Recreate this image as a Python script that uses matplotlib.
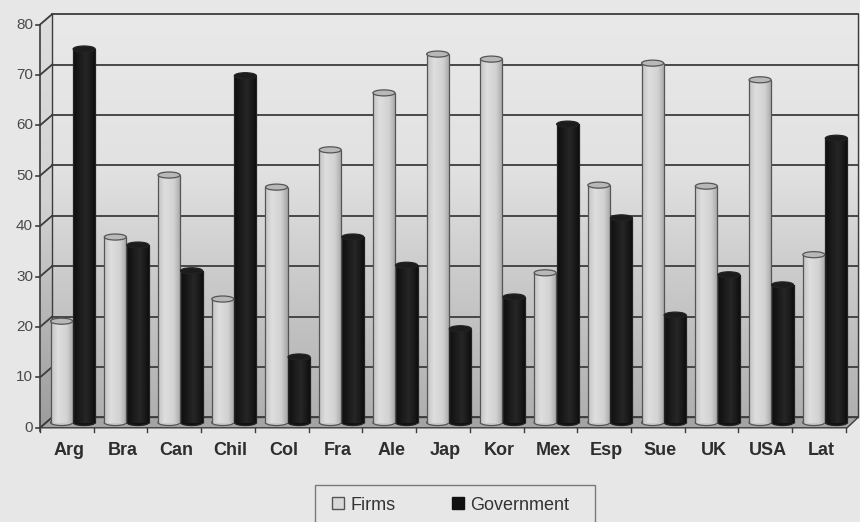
import numpy as np
import matplotlib
matplotlib.use("Agg")
import matplotlib.pyplot as plt
from matplotlib.patches import Ellipse, Polygon, Rectangle
from matplotlib.colors import LinearSegmentedColormap
from matplotlib.lines import Line2D

plt.rcParams["font.family"] = ["Liberation Sans", "DejaVu Sans"]

countries = ["Arg", "Bra", "Can", "Chil", "Col", "Fra", "Ale", "Jap",
             "Kor", "Mex", "Esp", "Sue", "UK", "USA", "Lat"]
firms = [20.1, 36.8, 49.1, 24.5, 46.7, 54.1, 65.4, 73.1,
         72.1, 29.7, 47.1, 71.3, 46.9, 68.0, 33.3]
government = [74.1, 35.2, 30.1, 68.8, 13.0, 36.8, 31.2, 18.6,
              24.9, 59.2, 40.6, 21.3, 29.3, 27.3, 56.4]
yticks = list(range(0, 90, 10))
series_names = ["Firms", "Government"]

BG = "#e7e7e7"
GRID = "#3c3c3c"
DX = 0.112        # depth shift in category units (bar plane -> back wall)
DYF, DYB = 1.05, 1.0   # depth shift in value units (front / back)
BW = 0.41          # cylinder width
EH = 1.2           # height of the elliptical caps

fig = plt.figure(figsize=(8.6, 5.22), dpi=100, facecolor=BG)
ax = fig.add_axes([0, 0, 1, 1])
ax.set_facecolor(BG)

n = len(countries)
xl_f, xr_f = -0.5 - DX, n - 0.5 - DX * 0.8
xl_b, xr_b = -0.5 + DX, n - 0.5 + DX
ytop = yticks[-1]

# back wall with vertical shading
wall_cmap = LinearSegmentedColormap.from_list(
    "wall", [(0, "#e9e9e9"), (0.38, "#e2e2e2"), (0.65, "#cbcbcb"), (1, "#b0b0b0")])
grad = np.linspace(0, 1, 256)[:, None]
ax.imshow(grad, cmap=wall_cmap, aspect="auto", zorder=0,
          extent=[xl_b, xr_b, DYB, ytop + DYB])

# left side wall
side = Polygon([(xl_f, -DYF), (xl_b, DYB), (xl_b, ytop + DYB), (xl_f, ytop - DYF)],
               closed=True, facecolor="none", edgecolor="none")
ax.add_patch(side)
side_cmap = LinearSegmentedColormap.from_list(
    "side", [(0, "#dedede"), (0.45, "#d2d2d2"), (1, "#9c9c9c")])
img = ax.imshow(grad, cmap=side_cmap, aspect="auto", zorder=0,
                extent=[xl_f, xl_b, -DYF, ytop + DYB])
img.set_clip_path(side)

# floor
floor = Polygon([(xl_f, -DYF), (xr_f, -DYF), (xr_b, DYB), (xl_b, DYB)],
                closed=True, facecolor="#a4a4a4", edgecolor=GRID, lw=1.0, zorder=1)
ax.add_patch(floor)

# gridlines: back wall + diagonal on the side wall + front ticks
for t in yticks:
    ax.plot([xl_b, xr_b], [t + DYB, t + DYB], color=GRID, lw=1.3, zorder=1)
    ax.plot([xl_f, xl_b], [t - DYF, t + DYB], color=GRID, lw=1.3, zorder=1)
    ax.plot([xl_f - 0.075, xl_f], [t - DYF, t - DYF], color=GRID, lw=1.2, zorder=1)
    ax.text(xl_f - 0.13, t - DYF, str(t), ha="right", va="center",
            fontsize=11, color="#4a4a4a")
ax.plot([xl_f, xl_f], [-DYF - 0.6, ytop - DYF], color=GRID, lw=1.2, zorder=1)
ax.plot([xl_b, xl_b], [DYB, ytop + DYB], color=GRID, lw=1.0, zorder=1)
ax.plot([xr_b, xr_b], [DYB, ytop + DYB], color=GRID, lw=1.0, zorder=1)

# category ticks and labels along the front edge
for k in range(n + 1):
    xt = k - 0.5 - DX
    ax.plot([xt, xt], [-DYF, -DYF - 0.8], color=GRID, lw=1.0, zorder=1)
for i, name in enumerate(countries):
    ax.text(i - DX * 0.6, -5.6, name, ha="center", va="center",
            fontsize=13, fontweight="bold", color="#2e2e2e")

light_cmap = LinearSegmentedColormap.from_list(
    "light", [(0, "#c4c4c4"), (0.3, "#dedede"), (0.7, "#d2d2d2"), (1, "#a6a6a6")])
dark_cmap = LinearSegmentedColormap.from_list(
    "dark", [(0, "#0e0e0e"), (0.55, "#262626"), (0.8, "#1a1a1a"), (1, "#0a0a0a")])
row = np.linspace(0, 1, 64)[None, :]

styles = [
    dict(cmap=light_cmap, cap="#b8b8b8", edge="#555555", base="#c9c9c9"),
    dict(cmap=dark_cmap, cap="#1c1c1c", edge="#222222", base="#111111"),
]
offsets = [-BW / 2 - 0.005, BW / 2 + 0.005]
x = np.arange(n)

for vals, off, st in zip([firms, government], offsets, styles):
    bars = ax.bar(x + off, vals, width=BW, color="none", lw=0, zorder=4)
    for b, v in zip(bars, vals):
        x0 = b.get_x()
        x1 = x0 + b.get_width()
        xc = x0 + b.get_width() / 2
        ax.add_patch(Ellipse((xc, 0), b.get_width(), EH, facecolor=st["base"],
                             edgecolor=st["edge"], lw=0.9, zorder=3))
        im = ax.imshow(row, cmap=st["cmap"], aspect="auto", zorder=4,
                       extent=[x0, x1, 0, v])
        im.set_clip_path(b)
        ax.vlines([x0, x1], 0, v, color=st["edge"], lw=0.9, zorder=5)
        ax.add_patch(Ellipse((xc, v), b.get_width(), EH, facecolor=st["cap"],
                             edgecolor=st["edge"], lw=0.9, zorder=6))

ax.set_xlim(-1.356, 14.65)
ax.set_ylim(-19.74, 83.83)
ax.axis("off")

handles = [
    Line2D([], [], marker="s", ls="none", markersize=8,
           markerfacecolor="#d9d9d9", markeredgecolor="#555555"),
    Line2D([], [], marker="s", ls="none", markersize=8,
           markerfacecolor="#111111", markeredgecolor="#111111"),
]
fig.legend(handles, series_names, ncol=2, loc="center left",
           bbox_to_anchor=(315 / 860, 1 - 505 / 522), frameon=False,
           fontsize=13, handlelength=0.7, handletextpad=0.35,
           columnspacing=3.1, borderpad=0.4, labelcolor="#333333")
fig.add_artist(Rectangle((315 / 860, -0.02), 280 / 860, 0.091,
                         transform=fig.transFigure, fill=False,
                         edgecolor="#7a7a7a", lw=1.0))

fig.savefig("out.png", dpi=100, facecolor=BG)
